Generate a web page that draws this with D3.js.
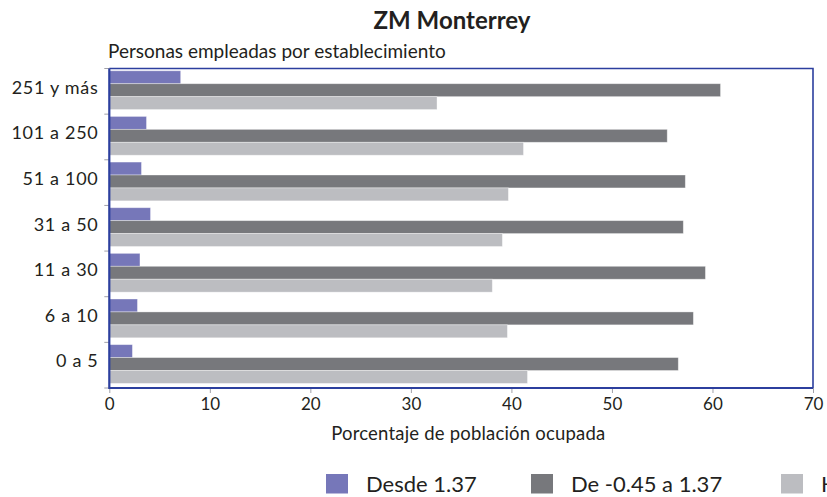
<!DOCTYPE html>
<html>
<head>
<meta charset="utf-8">
<script src="https://cdn.jsdelivr.net/npm/d3@7"></script>
<style>
  html, body { margin: 0; padding: 0; background: #ffffff; }
  svg { display: block; font-family: Lato, "Open Sans", sans-serif; }
</style>
</head>
<body>
<svg id="chart" width="827" height="497"></svg>
<script>
// ---- Data ----
const categories = ["251 y más", "101 a 250", "51 a 100", "31 a 50", "11 a 30", "6 a 10", "0 a 5"];
const seriesNames = ["Desde 1.37", "De -0.45 a 1.37", "Hasta -0.45"];
const seriesHigh = [7.1, 3.7, 3.2, 4.1, 3.05, 2.8, 2.3];
const seriesMid  = [60.8, 55.5, 57.3, 57.1, 59.3, 58.1, 56.6];
const seriesLow  = [32.6, 41.2, 39.7, 39.1, 38.1, 39.6, 41.6];
const seriesColors = ["#7677b9", "#77787c", "#bcbdc1"];
const xTicks = [0, 10, 20, 30, 40, 50, 60, 70];

const title = "ZM Monterrey";
const subtitle = "Personas empleadas por establecimiento";
const xTitle = "Porcentaje de población ocupada";

// ---- Layout ----
const svg = d3.select("#chart");
const mLeft = 109.3, mRight = 813, mTop = 68.5, mBottom = 388;
const frameColor = "#2c3f9e";
const textColor = "#231f20";

const x = d3.scaleLinear().domain([0, 70]).range([mLeft, mRight]);
const y = d3.scaleBand().domain(categories).range([mTop, mBottom]).padding(0);
const sub = d3.scaleBand().domain(d3.range(3))
  .range([y.bandwidth() * 0.05, y.bandwidth() * 0.9]).padding(0);

const allSeries = [seriesHigh, seriesMid, seriesLow];
const rows = categories.map((c, i) => ({ cat: c, vals: allSeries.map(s => s[i]) }));

// Title and subtitle
svg.append("text").attr("x", 452).attr("y", 29)
  .attr("text-anchor", "middle").attr("font-size", 24).attr("font-weight", 700)
  .attr("fill", textColor).text(title);
svg.append("text").attr("x", 108).attr("y", 57.5)
  .attr("font-size", 19).attr("fill", textColor).text(subtitle);

// Bars
const g = svg.append("g");
rows.forEach(r => {
  const gg = g.append("g").attr("transform", `translate(0,${y(r.cat)})`);
  gg.selectAll("rect").data(r.vals).join("rect")
    .attr("x", x(0))
    .attr("y", (d, j) => sub(j))
    .attr("width", d => x(d) - x(0))
    .attr("height", sub.bandwidth())
    .attr("fill", (d, j) => seriesColors[j])
    .attr("stroke", "rgba(255,255,255,0.45)")
    .attr("stroke-width", 0.8);
});

// Frame (top and right)
svg.append("path")
  .attr("d", `M${mLeft},${mTop}H${mRight}V${mBottom}`)
  .attr("fill", "none").attr("stroke", frameColor).attr("stroke-width", 1.6);

// Y axis: ticks at band boundaries
const yBounds = categories.map(c => y(c)).concat([mBottom]);
svg.append("g").selectAll("line").data(yBounds).join("line")
  .attr("x1", mLeft - 5).attr("x2", mLeft)
  .attr("y1", d => d).attr("y2", d => d)
  .attr("stroke", "#a0a0a8").attr("stroke-width", 1);
svg.append("g").selectAll("text").data(categories).join("text")
  .attr("x", 98.5).attr("y", d => y(d) + y.bandwidth() / 2 + 2.3)
  .attr("text-anchor", "end").attr("font-size", 18).attr("letter-spacing", 0.7)
  .attr("fill", textColor)
  .text(d => d);

// X axis
const xAxis = svg.append("g").attr("transform", `translate(0,${mBottom})`)
  .call(d3.axisBottom(x).tickValues(xTicks).tickSize(5).tickSizeOuter(0));
xAxis.select(".domain").remove();
xAxis.selectAll(".tick line").attr("stroke", "#a0a0a8");
xAxis.selectAll(".tick text")
  .attr("font-family", "Lato, 'Open Sans', sans-serif")
  .attr("font-size", 17).attr("fill", textColor).attr("dy", null).attr("y", 22);

// Axis lines (left and bottom, thicker)
svg.append("path")
  .attr("d", `M${mLeft},${mTop}V${mBottom}H${mRight}`)
  .attr("fill", "none").attr("stroke", frameColor).attr("stroke-width", 2.2);

// X title
svg.append("text").attr("x", 468.3).attr("y", 440)
  .attr("text-anchor", "middle").attr("font-size", 18.5).attr("letter-spacing", 0.2)
  .attr("fill", textColor)
  .text(xTitle);

// Legend
const legendX = [326, 531, 781];
const legend = svg.append("g");
seriesNames.forEach((n, i) => {
  legend.append("rect").attr("x", legendX[i]).attr("y", 474).attr("width", 22).attr("height", 19.5)
    .attr("fill", seriesColors[i]);
  legend.append("text").attr("x", legendX[i] + 40).attr("y", 492)
    .attr("font-size", 22).attr("fill", textColor).text(n);
});
</script>
</body>
</html>
